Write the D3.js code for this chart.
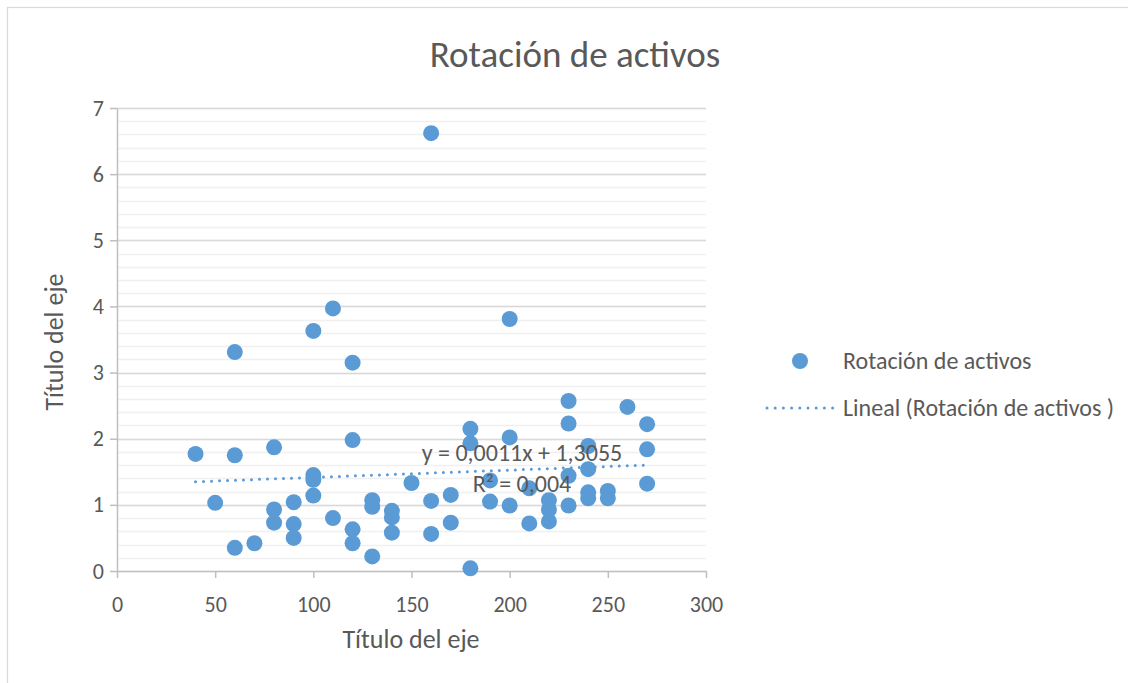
<!DOCTYPE html>
<html>
<head>
<meta charset="utf-8">
<script src="https://cdn.jsdelivr.net/npm/d3@7"></script>
<style>
  html, body { margin: 0; padding: 0; background: #fff; }
  svg { display: block; }
  text { font-family: Carlito, Calibri, Lato, sans-serif; fill: #595959; }
</style>
</head>
<body>
<svg id="chart" width="1128" height="683"></svg>
<script>
// Asset turnover observations (x value, turnover)
const xValues = [
  40, 50, 60, 60, 60, 70, 80, 80, 80, 90, 90, 90,
  100, 100, 100, 100, 110, 110, 120, 120, 120, 120,
  130, 130, 130, 140, 140, 140, 150, 160, 160, 160,
  170, 170, 180, 180, 180, 190, 190, 200, 200, 200,
  210, 210, 220, 220, 220, 230, 230, 230, 230,
  240, 240, 240, 240, 250, 250, 260, 270, 270, 270
];
const yValues = [
  1.77, 1.03, 3.31, 1.75, 0.35, 0.42, 1.87, 0.93, 0.73, 1.04, 0.71, 0.50,
  3.63, 1.45, 1.38, 1.14, 3.97, 0.80, 3.15, 1.98, 0.63, 0.42,
  1.07, 0.97, 0.22, 0.91, 0.81, 0.58, 1.33, 6.62, 1.06, 0.56,
  1.15, 0.73, 2.15, 1.93, 0.04, 1.37, 1.05, 3.81, 2.02, 0.99,
  1.25, 0.72, 1.07, 0.93, 0.75, 2.57, 2.23, 1.44, 0.99,
  1.89, 1.54, 1.19, 1.10, 1.21, 1.10, 2.48, 2.22, 1.84, 1.32
];

// Linear trend coefficients shown on the chart
const trendSlope = 0.0011;
const trendIntercept = 1.3055;
const trendR2 = 0.004;

const xTicks = [0, 50, 100, 150, 200, 250, 300];
const yTicks = [0, 1, 2, 3, 4, 5, 6, 7];
const yMinorTicks = d3.range(0, 7.0001, 0.2);

const chartTitle = "Rotación de activos";
const xAxisTitle = "Título del eje";
const yAxisTitle = "Título del eje";
const seriesName = "Rotación de activos";
const trendName = "Lineal (Rotación de activos )";

const blue = "#5B9BD5";
const fontStack = "Carlito, Calibri, Lato, sans-serif";
const comma = v => String(v).replace(".", ",");

const svg = d3.select("#chart");

// Outer chart frame
svg.append("rect")
  .attr("x", 7.5).attr("y", 7.5)
  .attr("width", 1140).attr("height", 700)
  .attr("fill", "#fff").attr("stroke", "#d9d9d9").attr("stroke-width", 1.2);

const x = d3.scaleLinear().domain([0, 300]).range([117, 706]);
const y = d3.scaleLinear().domain([0, 7]).range([571, 108]);

// Minor gridlines
svg.append("g")
  .selectAll("line")
  .data(yMinorTicks)
  .join("line")
  .attr("x1", x(0)).attr("x2", x(300))
  .attr("y1", d => Math.round(y(d)) + 0.5).attr("y2", d => Math.round(y(d)) + 0.5)
  .attr("stroke", "#f0f0f0").attr("stroke-width", 1.5);

// Major gridlines
svg.append("g")
  .selectAll("line")
  .data(yTicks.slice(1))
  .join("line")
  .attr("x1", x(0)).attr("x2", x(300))
  .attr("y1", d => Math.round(y(d)) + 0.5).attr("y2", d => Math.round(y(d)) + 0.5)
  .attr("stroke", "#d9d9d9").attr("stroke-width", 1.5);

// Axes
const xAxis = d3.axisBottom(x).tickValues(xTicks).tickFormat(d3.format("d"))
  .tickSize(7).tickPadding(18).tickSizeOuter(0);
const yAxis = d3.axisLeft(y).tickValues(yTicks).tickFormat(d3.format("d"))
  .tickSize(7).tickPadding(6).tickSizeOuter(0);

const gx = svg.append("g").attr("transform", `translate(0,${y(0)})`).call(xAxis);
const gy = svg.append("g").attr("transform", `translate(${x(0)},0)`).call(yAxis);

[gx, gy].forEach(g => {
  g.select(".domain").attr("stroke", "#bfbfbf").attr("stroke-width", 1.5);
  g.selectAll(".tick line").attr("stroke", "#bfbfbf").attr("stroke-width", 1.5);
  g.selectAll(".tick text")
    .style("font-family", fontStack)
    .style("font-size", "22px").attr("fill", "#595959");
});

// Trend line
const trendX = [d3.min(xValues), d3.max(xValues)];
svg.append("line")
  .attr("x1", x(trendX[0])).attr("y1", y(trendSlope * trendX[0] + trendIntercept))
  .attr("x2", x(trendX[1])).attr("y2", y(trendSlope * trendX[1] + trendIntercept))
  .attr("stroke", blue).attr("stroke-width", 3)
  .attr("stroke-linecap", "round").attr("stroke-dasharray", "0 8");

// Points
svg.append("g")
  .selectAll("circle")
  .data(xValues.map((v, i) => [v, yValues[i]]))
  .join("circle")
  .attr("cx", d => x(d[0])).attr("cy", d => y(d[1]))
  .attr("r", 8)
  .attr("fill", blue);

// Trend equation label
const eqX = 522;
svg.append("text")
  .attr("x", eqX).attr("y", 461)
  .attr("text-anchor", "middle")
  .style("font-size", "24px")
  .text(`y = ${comma(trendSlope)}x + ${comma(trendIntercept)}`);
svg.append("text")
  .attr("x", eqX).attr("y", 492)
  .attr("text-anchor", "middle")
  .style("font-size", "24px")
  .text(`R² = ${comma(trendR2)}`);

// Title
svg.append("text")
  .attr("x", 575).attr("y", 67)
  .attr("text-anchor", "middle")
  .style("font-size", "37px")
  .style("font-weight", 300)
  .text(chartTitle);

// Axis titles
svg.append("text")
  .attr("x", 411).attr("y", 648)
  .attr("text-anchor", "middle")
  .style("font-size", "26px")
  .text(xAxisTitle);

svg.append("text")
  .attr("transform", `translate(63,342) rotate(-90)`)
  .attr("text-anchor", "middle")
  .style("font-size", "26px")
  .text(yAxisTitle);

// Legend
const legend = svg.append("g");
legend.append("circle").attr("cx", 800).attr("cy", 361).attr("r", 8).attr("fill", blue);
legend.append("text").attr("x", 843).attr("y", 369).style("font-size", "24px").text(seriesName);
legend.append("line")
  .attr("x1", 767).attr("x2", 833).attr("y1", 408).attr("y2", 408)
  .attr("stroke", blue).attr("stroke-width", 3)
  .attr("stroke-linecap", "round").attr("stroke-dasharray", "0 8.2");
legend.append("text").attr("x", 843).attr("y", 416).style("font-size", "24px").text(trendName);
</script>
</body>
</html>
